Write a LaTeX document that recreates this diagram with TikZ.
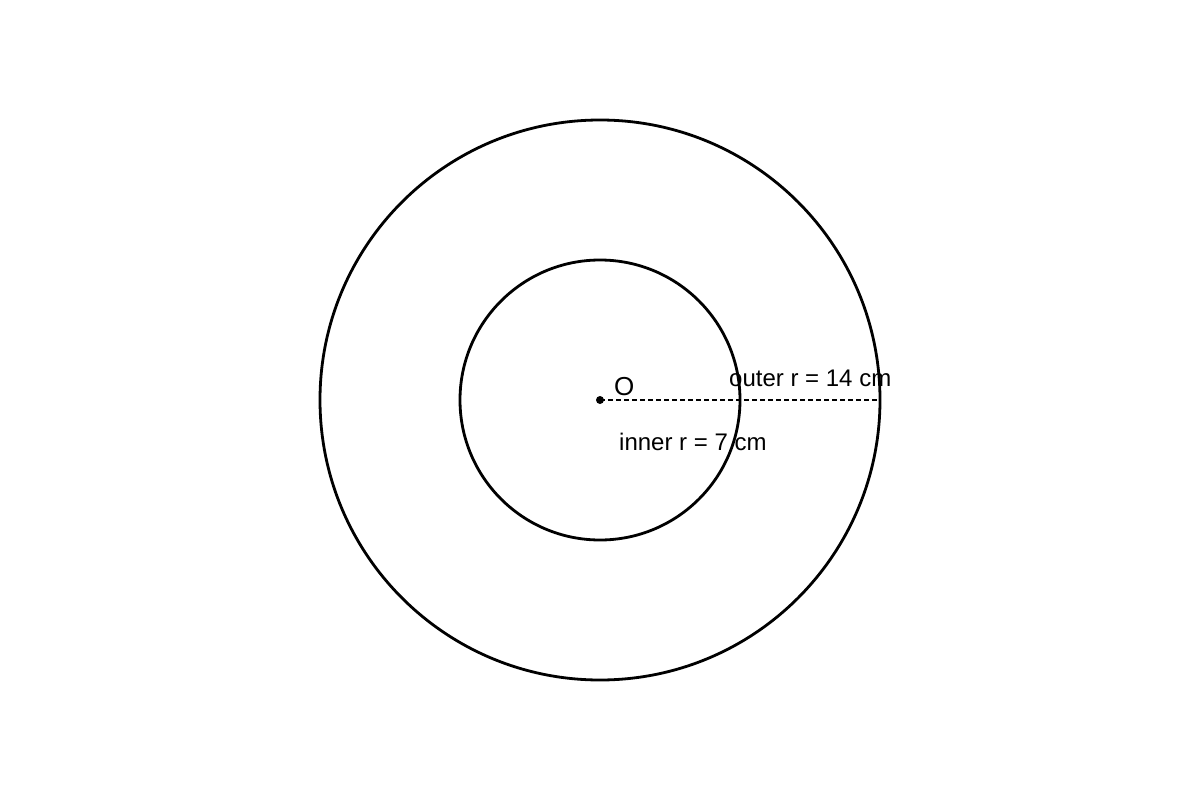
\documentclass[tikz,border=0pt]{standalone}
\usepackage{fontspec}
\setmainfont{Liberation Sans}
\begin{document}
\begin{tikzpicture}[x=1pt,y=-1pt,
  ring/.style={draw=black,line width=2.8pt},
  radius line/.style={draw=black,line width=1.8pt,dash pattern=on 5pt off 3pt},
  lbl/.style={font=\fontsize{24}{28}\selectfont,inner sep=0pt,anchor=base west}]
\useasboundingbox[fill=white] (0,0) rectangle (1200,800);
\coordinate (O) at (600,400);
\coordinate (R) at (878,400);
\draw[ring] (O) circle[radius=280];
\draw[ring] (O) circle[radius=140];
\draw[radius line] (O) -- (R);
\fill (O) circle[radius=4];
\node[lbl,font=\fontsize{26}{30}\selectfont] (olab) at (614,395) {O};
\node[lbl] (outer) at (729,386) {outer r = 14 cm};
\node[lbl] (inner) at (619,450) {inner r = 7 cm};
\end{tikzpicture}
\end{document}
